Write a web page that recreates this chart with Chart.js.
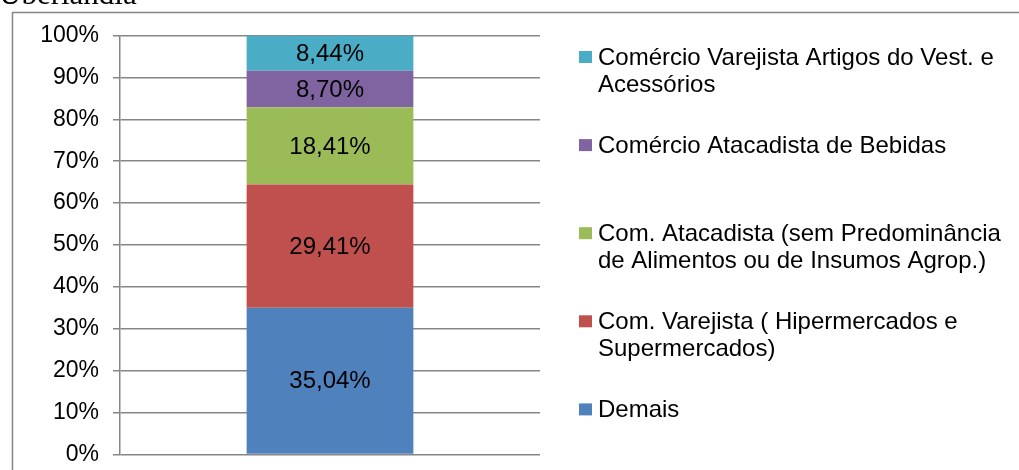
<!DOCTYPE html>
<html>
<head>
<meta charset="utf-8">
<script src="https://cdn.jsdelivr.net/npm/chart.js@4.4.0/dist/chart.umd.min.js"></script>
<style>
html,body{margin:0;padding:0;background:#fff;overflow:hidden;}
#wrap{position:relative;width:1019px;height:470px;}
</style>
</head>
<body>
<div id="wrap"><canvas id="c" width="1019" height="470"></canvas></div>
<script>
const categories = [''];
const seriesNames = [
  'Demais',
  'Com. Varejista ( Hipermercados e|Supermercados)',
  'Com. Atacadista (sem Predominância|de Alimentos ou de Insumos Agrop.)',
  'Comércio Atacadista de Bebidas',
  'Comércio Varejista Artigos do Vest. e|Acessórios'
];
const demais = [35.04];
const varejistaHiper = [29.41];
const atacadistaSemPred = [18.41];
const atacadistaBebidas = [8.70];
const varejistaVest = [8.44];
const seriesColors = ['#4F81BD', '#C0504D', '#9BBB59', '#8064A2', '#4BACC6'];
const yTicks = [0, 10, 20, 30, 40, 50, 60, 70, 80, 90, 100];
const titleText = 'Uberlândia';

const seriesValues = [demais, varejistaHiper, atacadistaSemPred, atacadistaBebidas, varejistaVest];
const FONT = '"Liberation Sans", Arial, sans-serif';
const FS = 24;
const TFS = 23;

const fmt = v => v.toFixed(2).replace('.', ',') + '%';

const decorPlugin = {
  id: 'decor',
  beforeDraw(chart) {
    const ctx = chart.ctx;
    ctx.save();
    ctx.fillStyle = '#fff';
    ctx.fillRect(0, 0, chart.width, chart.height);
    ctx.strokeStyle = '#868686';
    ctx.lineWidth = 1.5;
    ctx.strokeRect(12.5, 12.5, 1100, 600);
    ctx.fillStyle = '#000';
    ctx.font = '31px "Liberation Serif", "Times New Roman", serif';
    ctx.textBaseline = 'alphabetic';
    ctx.textAlign = 'left';
    ctx.fillText(titleText, -1, 4);
    ctx.restore();
  },
  afterDatasetsDraw(chart) {
    const ctx = chart.ctx;
    ctx.save();
    ctx.font = FS + 'px ' + FONT;
    ctx.fillStyle = '#000';
    ctx.textAlign = 'center';
    ctx.textBaseline = 'middle';
    chart.data.datasets.forEach((ds, i) => {
      const meta = chart.getDatasetMeta(i);
      meta.data.forEach((bar, j) => {
        const y = (bar.y + bar.base) / 2;
        ctx.fillText(fmt(ds.data[j]), bar.x, y + 1);
      });
    });
    // legend (reverse order)
    const legendX = 579, textX = 598, sq = 12;
    const firstY = 57, step = 88.1, lineH = 27;
    const n = chart.data.datasets.length;
    for (let k = 0; k < n; k++) {
      const i = n - 1 - k;
      const ds = chart.data.datasets[i];
      const y0 = firstY + k * step;
      ctx.fillStyle = ds.backgroundColor;
      ctx.fillRect(legendX, y0 - sq / 2, sq + 1, sq);
      ctx.fillStyle = '#000';
      ctx.textAlign = 'left';
      ctx.textBaseline = 'middle';
      ds.label.split('|').forEach((line, li) => {
        ctx.fillText(line, textX, y0 + li * lineH + 1);
      });
    }
    ctx.restore();
  }
};

new Chart(document.getElementById('c'), {
  type: 'bar',
  data: {
    labels: categories,
    datasets: seriesValues.map((vals, i) => ({
      label: seriesNames[i],
      data: vals,
      backgroundColor: seriesColors[i],
      borderWidth: 0,
      barPercentage: 0.397,
      categoryPercentage: 1
    }))
  },
  options: {
    responsive: false,
    animation: false,
    layout: { padding: { left: 0, right: 479, top: 35.5, bottom: 15.5 } },
    plugins: { legend: { display: false }, tooltip: { enabled: false }, title: { display: false } },
    scales: {
      x: { stacked: true, display: false },
      y: {
        stacked: true,
        min: 0, max: 100,
        afterBuildTicks(scale) { scale.ticks = yTicks.map(v => ({ value: v })); },
        afterFit(scale) { scale.width = 120; scale.paddingTop = 0; scale.paddingBottom = 0; },
        ticks: {
          font: { family: FONT, size: TFS },
          color: '#000',
          padding: 14,
          callback: v => v + '%'
        },
        grid: { color: '#868686', lineWidth: 1.5, tickLength: 7, drawTicks: true },
        border: { color: '#868686', width: 1.5 }
      }
    }
  },
  plugins: [decorPlugin]
});
</script>
</body>
</html>
